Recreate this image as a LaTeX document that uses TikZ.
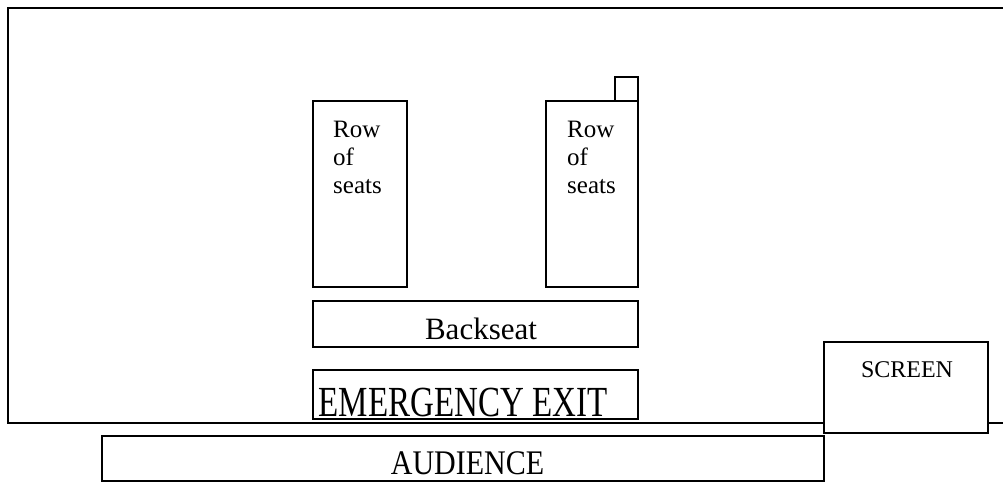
\documentclass[tikz,border=0pt]{standalone}
\usepackage{fontspec}
\setmainfont{Liberation Serif}
\begin{document}
\begin{tikzpicture}[x=1pt,y=-1pt,
  box/.style={draw, line width=1.1pt, inner sep=0pt, outer sep=0pt, anchor=north west, fill=white},
  rowtext/.style={inner sep=0pt, anchor=base west, font=\fontsize{25}{28}\selectfont},
  label/.style={inner sep=0pt, anchor=base}]
\useasboundingbox (0,0) rectangle (1003,482);
% outer hall
\coordinate (otr) at (1003,8);
\coordinate (otl) at (8,8);
\coordinate (obl) at (8,423);
\coordinate (obr) at (1003,423);
\draw[line width=1.1pt] (otr) -- (otl) -- (obl) -- (obr);
% rows of seats
\node[box, minimum width=94pt, minimum height=186pt] (rowL) at (313,101) {};
\node[box, minimum width=92pt, minimum height=186pt] (rowR) at (546,101) {};
\node[box, minimum width=23pt, minimum height=24pt, anchor=south east] (sq) at (rowR.north east) {};
\node[rowtext] (tL) at (333,137) {\begin{tabular}[t]{@{}l@{}}Row\\of\\seats\end{tabular}};
\node[rowtext] (tR) at (567,137) {\begin{tabular}[t]{@{}l@{}}Row\\of\\seats\end{tabular}};
% backseat
\node[box, minimum width=325pt, minimum height=46pt] (back) at (313,301) {};
\node[label, font=\fontsize{31}{36}\selectfont] (tback) at (481,339) {Backseat};
% emergency exit
\node[box, minimum width=325pt, minimum height=49pt] (exit) at (313,370) {};
\node[label] (texit) at (463,416.5) {\scalebox{1}[1.3]{\fontsize{33}{38}\selectfont EMERGENCY EXIT}};
% screen
\node[box, minimum width=164pt, minimum height=91pt] (screen) at (824,342) {};
\node[label, font=\fontsize{24}{28}\selectfont] (tscreen) at (907,377) {SCREEN};
% audience
\node[box, minimum width=722pt, minimum height=45pt] (aud) at (102,436) {};
\node[label] (taud) at (467.5,474) {\scalebox{1}[1.15]{\fontsize{30}{36}\selectfont AUDIENCE}};
\end{tikzpicture}
\end{document}
